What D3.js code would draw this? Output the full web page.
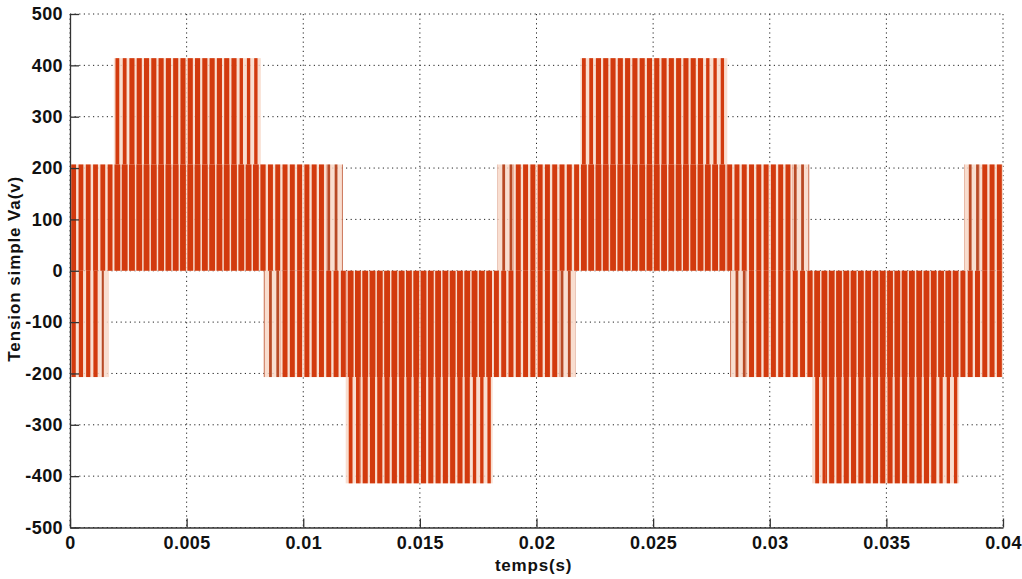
<!DOCTYPE html>
<html>
<head>
<meta charset="utf-8">
<script src="https://cdn.jsdelivr.net/npm/d3@7"></script>
<style>
    body { margin: 0; background: #fff; }
    text { font-family: "Liberation Sans", Arial, sans-serif; font-weight: bold; fill: #111; }
</style>
</head>
<body>
<div id="chart"></div>
<script>
// pulse pitch (about 16 pulses per 0.005 s)
const CARRIER_PERIOD = 0.0003125;

// zones of the PWM waveform: time span, the two levels it switches between, pulse width ratio
const zoneStart = [0, 0.00188, 0.00818, 0.0110,  0.00188, 0.0025, 0.0072,  0, 0.0013,
    0.00831, 0.0090, 0.01182, 0.01812, 0.0210,  0.01182, 0.0124, 0.0172,
    0.01833, 0.0190, 0.02188, 0.02818, 0.0310,  0.02188, 0.0225, 0.0272,
    0.02831, 0.0290, 0.03182, 0.03812,  0.03182, 0.0324, 0.0372,  0.03833, 0.0390];
const zoneEnd = [0.00188, 0.00818, 0.0110, 0.01169,  0.0025, 0.0072, 0.00818,  0.0013, 0.00167,
    0.0090, 0.01182, 0.01812, 0.0210, 0.02167,  0.0124, 0.0172, 0.01812,
    0.0190, 0.02188, 0.02818, 0.0310, 0.03169,  0.0225, 0.0272, 0.02818,
    0.0290, 0.03182, 0.03812, 0.04,  0.0324, 0.0372, 0.03812,  0.0390, 0.04];
const zoneLow = [0, 0, 0, 0,  207, 207, 207,  -207, -207,
    -207, -207, -207, -207, -207,  -414, -414, -414,
    0, 0, 0, 0, 0,  207, 207, 207,
    -207, -207, -207, -207,  -414, -414, -414,  0, 0];
const zoneHigh = [207, 207, 207, 207,  414, 414, 414,  0, 0,
    0, 0, 0, 0, 0,  -207, -207, -207,
    207, 207, 207, 207, 207,  414, 414, 414,
    0, 0, 0, 0,  -207, -207, -207,  207, 207];
const zoneDuty = [0.66, 0.8, 0.68, 0.38,  0.52, 0.7, 0.46,  0.58, 0.28,
    0.38, 0.68, 0.8, 0.68, 0.38,  0.52, 0.7, 0.46,
    0.38, 0.68, 0.8, 0.68, 0.38,  0.52, 0.7, 0.46,
    0.38, 0.68, 0.8, 0.68,  0.52, 0.7, 0.46,  0.38, 0.68];

const xTicks = [0, 0.005, 0.01, 0.015, 0.02, 0.025, 0.03, 0.035, 0.04];
const yTicks = [-500, -400, -300, -200, -100, 0, 100, 200, 300, 400, 500];

class PwmChart {
    constructor(element) {
        this.parentElement = element;
        this.initVis();
    }

    initVis() {
        const vis = this;

        vis.MARGIN = { LEFT: 70, RIGHT: 19, TOP: 14, BOTTOM: 51.5 };
        vis.WIDTH = 1022 - vis.MARGIN.LEFT - vis.MARGIN.RIGHT;
        vis.HEIGHT = 579 - vis.MARGIN.TOP - vis.MARGIN.BOTTOM;

        vis.svg = d3.select(vis.parentElement).append("svg")
            .attr("width", 1022)
            .attr("height", 579)
            .append("g")
            .attr("transform", `translate(${vis.MARGIN.LEFT}, ${vis.MARGIN.TOP})`);

        vis.x = d3.scaleLinear().domain([0, 0.04]).range([0, vis.WIDTH]);
        vis.y = d3.scaleLinear().domain([-500, 500]).range([vis.HEIGHT, 0]);

        // dotted grid
        vis.svg.append("g")
            .selectAll("line")
            .data(xTicks)
            .join("line")
            .attr("x1", d => vis.x(d)).attr("x2", d => vis.x(d))
            .attr("y1", 0).attr("y2", vis.HEIGHT)
            .attr("stroke", "#222")
            .attr("stroke-dasharray", "1.2,3.4");
        vis.svg.append("g")
            .selectAll("line")
            .data(yTicks)
            .join("line")
            .attr("x1", 0).attr("x2", vis.WIDTH)
            .attr("y1", d => vis.y(d)).attr("y2", d => vis.y(d))
            .attr("stroke", "#222")
            .attr("stroke-dasharray", "1.2,3.4");

        vis.update();

        // axes, ticks pointing inward
        vis.xAxisGroup = vis.svg.append("g")
            .attr("transform", `translate(0, ${vis.HEIGHT})`)
            .call(d3.axisBottom(vis.x).tickValues(xTicks).tickFormat(d => String(d))
                .tickSizeInner(-9).tickSizeOuter(0).tickPadding(9));
        vis.yAxisGroup = vis.svg.append("g")
            .call(d3.axisLeft(vis.y).tickValues(yTicks).tickFormat(d => String(d))
                .tickSizeInner(-9).tickSizeOuter(0).tickPadding(7));

        vis.svg.selectAll(".domain, .tick line")
            .attr("stroke", "#333")
            .attr("stroke-width", 1.3);
        vis.svg.selectAll(".tick text")
            .style("font-size", "18px")
            .style("letter-spacing", "0.4px")
            .style("font-family", "\"Liberation Sans\", Arial, sans-serif")
            .style("font-weight", "bold")
            .attr("fill", "#111");

        // X Axis Label
        vis.svg.append("text")
            .attr("x", vis.WIDTH / 2 - 3)
            .attr("y", vis.HEIGHT + 43)
            .attr("text-anchor", "middle")
            .style("font-size", "17px")
            .style("letter-spacing", "0.8px")
            .text("temps(s)");

        // Y Axis Label
        vis.svg.append("text")
            .attr("transform", "rotate(-90)")
            .attr("x", -vis.HEIGHT / 2 + 2)
            .attr("y", -50)
            .attr("text-anchor", "middle")
            .style("font-size", "17px")
            .style("letter-spacing", "0.9px")
            .text("Tension simple Va(v)");
    }

    update() {
        const vis = this;

        const zones = zoneStart.map((s, i) => ({
            start: s, end: zoneEnd[i], low: zoneLow[i], high: zoneHigh[i], duty: zoneDuty[i]
        }));

        // one pulse per carrier period inside each zone
        const pulses = [];
        zones.forEach(z => {
            const w = z.duty * CARRIER_PERIOD;
            for (let k = Math.floor(z.start / CARRIER_PERIOD); k * CARRIER_PERIOD < z.end; k++) {
                const c = (k + 0.5) * CARRIER_PERIOD;
                const t0 = Math.max(z.start, c - w / 2);
                const t1 = Math.min(z.end, c + w / 2);
                if (t1 > t0) pulses.push({ t0, t1, low: z.low, high: z.high, duty: z.duty });
            }
        });

        // pale band behind the pulses (blurred gaps in the original)
        vis.svg.append("g")
            .selectAll("rect")
            .data(zones)
            .join("rect")
            .attr("x", d => vis.x(d.start))
            .attr("width", d => vis.x(d.end) - vis.x(d.start))
            .attr("y", d => vis.y(d.high))
            .attr("height", d => vis.y(d.low) - vis.y(d.high))
            .attr("fill", "#f8d8c8")
            .attr("opacity", 0.85);

        vis.svg.append("g")
            .selectAll("rect")
            .data(pulses)
            .join("rect")
            .attr("x", d => vis.x(d.t0))
            .attr("width", d => vis.x(d.t1) - vis.x(d.t0))
            .attr("y", d => vis.y(d.high))
            .attr("height", d => vis.y(d.low) - vis.y(d.high))
            .attr("fill", d => d.duty < 0.45 ? "#b84a26" : "#d23a0e");
    }
}

new PwmChart("#chart");
</script>
</body>
</html>
